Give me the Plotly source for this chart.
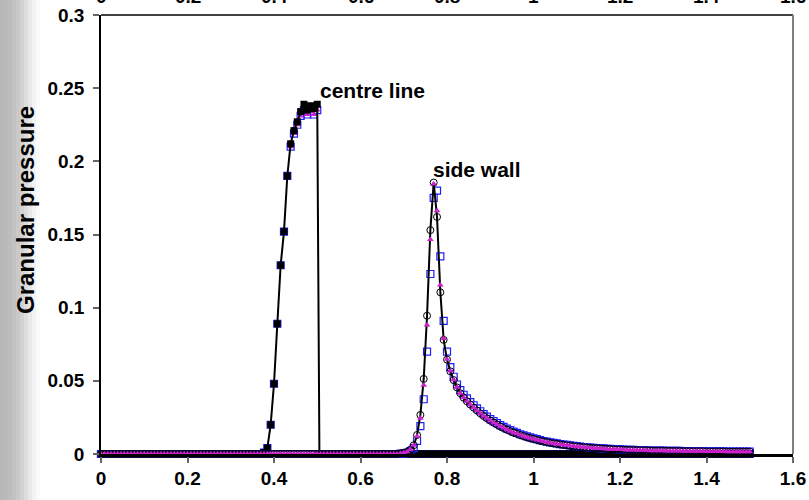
import plotly.graph_objects as go

# ---------------- data ----------------
N_POINTS = 196
X_END = 1.5
x_grid = [round(i * X_END / (N_POINTS - 1), 6) for i in range(N_POINTS)]

# centre line (index 49..65 non-zero), then drops to zero at x_drop
centre_start = 49
centre_rise = [0.001, 0.004, 0.02, 0.048, 0.089, 0.129, 0.152, 0.19, 0.212,
               0.221, 0.227, 0.234, 0.239, 0.235, 0.238, 0.236, 0.239]
centre_rise_b = [0.001, 0.004, 0.02, 0.048, 0.089, 0.129, 0.152, 0.19, 0.21,
                 0.219, 0.225, 0.231, 0.235, 0.232, 0.234, 0.232, 0.235]
x_drop = 0.505

# side wall: circles (black), triangles (magenta), squares (blue)
side_start = 90
circle_peak = [0.0004, 0.0008, 0.0015, 0.003, 0.006, 0.013, 0.0267, 0.0513, 0.0945,
               0.153, 0.1855, 0.162, 0.1105, 0.078, 0.0645, 0.0565, 0.0505, 0.0455,
               0.0415, 0.0385, 0.036, 0.0338, 0.0317]
tri_peak = [0.0004, 0.0008, 0.0015, 0.003, 0.006, 0.012, 0.0245, 0.047, 0.0882,
            0.1465, 0.1845, 0.1663, 0.1155, 0.079, 0.0648, 0.0567, 0.0507, 0.0456,
            0.0416, 0.0386, 0.0361, 0.0339, 0.0318]
side_tail = [0.0297, 0.0278, 0.0260, 0.0244, 0.0228, 0.0214, 0.0201, 0.0188, 0.0177,
             0.0166, 0.0156, 0.0146, 0.0138, 0.0129, 0.0122, 0.0114, 0.0108, 0.0102,
             0.0096, 0.0090, 0.0085, 0.0081, 0.0076, 0.0072, 0.0069, 0.0065, 0.0062,
             0.0059, 0.0056, 0.0053, 0.0051, 0.0048, 0.0046, 0.0044, 0.0042, 0.0040,
             0.0039, 0.0037, 0.0036, 0.0034, 0.0033, 0.0032, 0.0031, 0.0030, 0.0029,
             0.0028, 0.0027, 0.0027, 0.0026, 0.0025, 0.0025, 0.0024, 0.0023, 0.0023,
             0.0022, 0.0022, 0.0022, 0.0021, 0.0021, 0.0020, 0.0020, 0.0020, 0.0019,
             0.0019, 0.0019, 0.0018, 0.0018, 0.0018, 0.0018, 0.0017, 0.0017, 0.0017,
             0.0017, 0.0017, 0.0017, 0.0016, 0.0016, 0.0016, 0.0016, 0.0016, 0.0016,
             0.0016, 0.0016]
blue_peak = [0.0002, 0.0004, 0.0008, 0.002, 0.004, 0.009, 0.019, 0.0374, 0.070,
             0.123, 0.175, 0.180, 0.135, 0.091, 0.070, 0.0593, 0.0528, 0.0475,
             0.0437, 0.0405, 0.038, 0.0355, 0.0333, 0.0312]
blue_tail = [0.0292, 0.0273, 0.0256, 0.0239, 0.0225, 0.0211, 0.0197, 0.0186, 0.0174,
             0.0164, 0.0153, 0.0145, 0.0135, 0.0128, 0.0120, 0.0113, 0.0107, 0.0101,
             0.0095, 0.0089, 0.0085, 0.0080, 0.0076, 0.0072, 0.0068, 0.0065, 0.0062,
             0.0059, 0.0056, 0.0054, 0.0050, 0.0048, 0.0046, 0.0044, 0.0042, 0.0041,
             0.0039, 0.0038, 0.0036, 0.0035, 0.0034, 0.0033, 0.0032, 0.0030, 0.0029,
             0.0028, 0.0028, 0.0027, 0.0026, 0.0026, 0.0025, 0.0024, 0.0024, 0.0023,
             0.0023, 0.0023, 0.0022, 0.0022, 0.0021, 0.0021, 0.0021, 0.0020, 0.0020,
             0.0020, 0.0019, 0.0019, 0.0019, 0.0019, 0.0018, 0.0018, 0.0018, 0.0018,
             0.0018, 0.0018, 0.0017, 0.0017, 0.0017, 0.0017, 0.0017, 0.0017, 0.0017,
             0.0017]

x_tick_vals = [0, 0.2, 0.4, 0.6, 0.8, 1.0, 1.2, 1.4, 1.6]
x_tick_text = ["0", "0.2", "0.4", "0.6", "0.8", "1", "1.2", "1.4", "1.6"]
y_tick_vals = [0, 0.05, 0.1, 0.15, 0.2, 0.25, 0.3]
y_tick_text = ["0", "0.05", "0.1", "0.15", "0.2", "0.25", "0.3"]

# ---------------- build series ----------------
def centre_series(rise):
    n_after = N_POINTS - centre_start - len(rise)
    xs = x_grid[:centre_start + len(rise)] + [x_drop] + x_grid[centre_start + len(rise):]
    ys = [0.0] * centre_start + rise + [0.0] + [0.0] * n_after
    return xs, ys

def side_series(peak, tail):
    ys = [0.0] * side_start + peak + tail
    assert len(ys) == N_POINTS, len(ys)
    return x_grid, ys

cx, cy = centre_series(centre_rise)
cbx, cby = centre_series(centre_rise_b)
sx_c, sy_c = side_series(circle_peak, side_tail)
sx_t, sy_t = side_series(tri_peak, side_tail)
sx_b, sy_b = side_series(blue_peak, blue_tail)

MAG = "#cc22cc"
BLUE = "#1f1fff"

fig = go.Figure()
fig.add_trace(go.Scatter(x=cbx, y=cby, mode="markers",
                         marker=dict(symbol="square-open", size=7, color=BLUE, line=dict(width=1.2)),
                         showlegend=False, cliponaxis=False))
fig.add_trace(go.Scatter(x=cbx, y=cby, mode="markers",
                         marker=dict(symbol="triangle-up", size=6, color=MAG),
                         showlegend=False, cliponaxis=False))
fig.add_trace(go.Scatter(x=cx, y=cy, mode="lines+markers",
                         line=dict(color="black", width=2),
                         marker=dict(symbol="square", size=7, color="black"),
                         showlegend=False, cliponaxis=False))
fig.add_trace(go.Scatter(x=sx_b, y=sy_b, mode="markers",
                         marker=dict(symbol="square-open", size=7, color=BLUE, line=dict(width=1.2)),
                         showlegend=False, cliponaxis=False))
fig.add_trace(go.Scatter(x=sx_c, y=sy_c, mode="lines+markers",
                         line=dict(color="black", width=2),
                         marker=dict(symbol="circle-open", size=7, color="black", line=dict(width=1)),
                         showlegend=False, cliponaxis=False))
fig.add_trace(go.Scatter(x=sx_t, y=sy_t, mode="markers",
                         marker=dict(symbol="triangle-up", size=6, color=MAG),
                         showlegend=False, cliponaxis=False))

FONT = "Liberation Sans, Arial, sans-serif"
tickfont = dict(family=FONT, size=19, color="black", weight="bold")

L, T, R, B = 101, 15, 16, 46
W, H = 809 - L - R, 500 - T - B

shapes = []
# left grey gradient strip
grad = [(0, 184), (4, 186), (8, 189), (12, 194), (16, 201), (20, 210), (24, 221),
        (28, 232), (32, 243), (36, 251)]
for k, (px, g) in enumerate(grad):
    px2 = grad[k + 1][0] if k + 1 < len(grad) else 40
    shapes.append(dict(type="rect", xref="paper", yref="paper",
                       x0=(px - L) / W, x1=(px2 - L) / W, y0=-0.2, y1=1.2,
                       fillcolor=f"rgb({g},{g},{g})", line=dict(width=0), layer="below"))
shapes.append(dict(type="line", xref="paper", yref="paper", x0=0, x1=1, y0=1, y1=1,
                   line=dict(color="black", width=1.5)))
shapes.append(dict(type="line", xref="paper", yref="paper", x0=1, x1=1, y0=0, y1=1,
                   line=dict(color="#808080", width=2)))

annotations = [
    dict(x=0.5017, y=0.2485, xref="x", yref="y", text="centre line", showarrow=False,
         xanchor="left", yanchor="middle", font=dict(family=FONT, size=21, color="black", weight="bold")),
    dict(x=0.7640, y=0.1945, xref="x", yref="y", text="side wall", showarrow=False,
         xanchor="left", yanchor="middle", font=dict(family=FONT, size=21, color="black", weight="bold")),
    dict(x=(25 - L) / W, y=(500 - B - 210) / H, xref="paper", yref="paper", text="Granular pressure",
         showarrow=False, textangle=-90, xanchor="center", yanchor="middle",
         font=dict(family=FONT, size=24, color="black", weight="bold")),
]
for v, t in zip(x_tick_vals, x_tick_text):
    annotations.append(dict(x=v, y=1, xref="x", yref="paper", text=t, showarrow=False,
                            xanchor="center", yanchor="bottom", yshift=6, font=tickfont))

fig.update_layout(
    width=809, height=500,
    margin=dict(l=L, r=R, t=T, b=B, autoexpand=False),
    paper_bgcolor="white", plot_bgcolor="white",
    shapes=shapes, annotations=annotations,
    xaxis=dict(range=[0, 1.6], tickvals=x_tick_vals, ticktext=x_tick_text,
               showgrid=False, zeroline=False, showline=True, linecolor="black", linewidth=2.5,
               ticks="outside", ticklen=6, tickcolor="#666666", tickwidth=1.5,
               tickfont=tickfont, ticklabelstandoff=-1),
    yaxis=dict(range=[0, 0.3], tickvals=y_tick_vals, ticktext=y_tick_text,
               showgrid=False, zeroline=False, showline=True, linecolor="black", linewidth=1.5,
               ticks="outside", ticklen=6, tickcolor="#666666", tickwidth=1.5,
               tickfont=tickfont, ticklabelstandoff=5),
)

fig.write_html("out.html", config={"displayModeBar": False},
               post_script="document.body.style.margin='0px';")
